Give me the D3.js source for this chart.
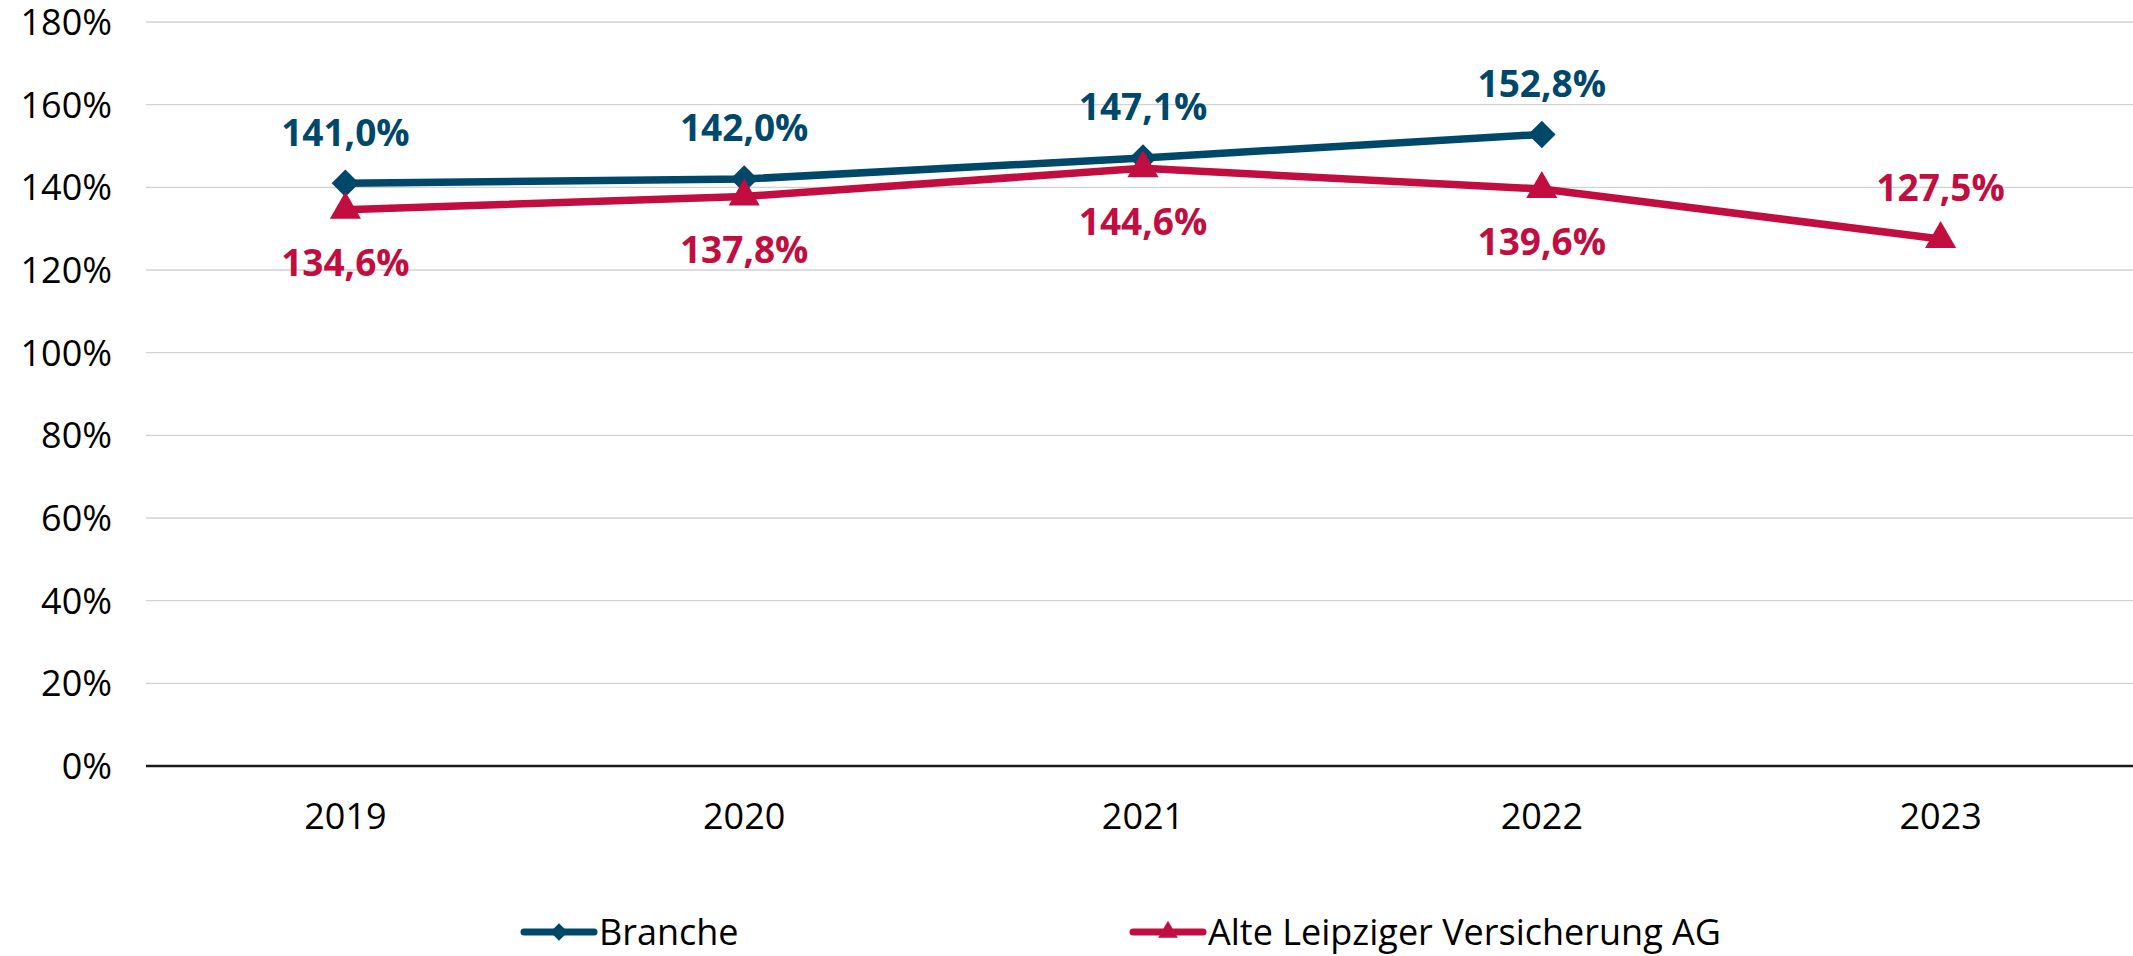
<!DOCTYPE html>
<html>
<head>
<meta charset="utf-8">
<script src="https://cdn.jsdelivr.net/npm/d3@7.9.0/dist/d3.min.js"></script>
<style>
  html, body { margin: 0; padding: 0; background: #fff; }
  svg { display: block; font-family: "Open Sans", sans-serif; }
</style>
</head>
<body>
<svg id="chart" width="2133" height="956"></svg>
<script>
// data
const years = ["2019", "2020", "2021", "2022", "2023"];
const branche = [1.41, 1.42, 1.471, 1.528, null];
const alteLeipziger = [1.346, 1.378, 1.446, 1.396, 1.275];
const yTicks = [0, 0.2, 0.4, 0.6, 0.8, 1.0, 1.2, 1.4, 1.6, 1.8];

// diamond = square turned 45deg (d3's symbolDiamond is too narrow)
const series = [
  { name: "Branche", values: branche, color: "#00486a", symbol: d3.symbolSquare, rotate: 45, size: 380 },
  { name: "Alte Leipziger Versicherung AG", values: alteLeipziger, color: "#c20d40", symbol: d3.symbolTriangle, rotate: 0, size: 420 }
];

const svg = d3.select("#chart");
const W = 2133, H = 956;
const plotLeft = 146, plotTop = 22, plotBottom = 766;

const x = d3.scaleBand().domain(years).range([plotLeft, 2140]);
const y = d3.scaleLinear().domain([0, 1.8]).range([plotBottom, plotTop]);
const cx = d => x(d) + x.bandwidth() / 2;

const pct = d3.format(".0%");
const pctLabel = v => d3.format(".1f")(v * 100).replace(".", ",") + "%";

// gridlines
svg.append("g")
  .selectAll("line")
  .data(yTicks.filter(t => t > 0))
  .join("line")
  .attr("x1", plotLeft).attr("x2", W)
  .attr("y1", d => y(d)).attr("y2", d => y(d))
  .attr("stroke", "#d2d2d2").attr("stroke-width", 1.4);

// y axis labels
svg.append("g")
  .selectAll("text")
  .data(yTicks)
  .join("text")
  .attr("x", 112)
  .attr("y", d => y(d))
  .attr("dy", "0.36em")
  .attr("text-anchor", "end")
  .attr("font-size", 36)
  .attr("fill", "#000")
  .text(d => pct(d));

// baseline
svg.append("line")
  .attr("x1", plotLeft).attr("x2", W)
  .attr("y1", y(0)).attr("y2", y(0))
  .attr("stroke", "#1a1a1a").attr("stroke-width", 2.4);

// x labels
svg.append("g")
  .selectAll("text")
  .data(years)
  .join("text")
  .attr("x", d => cx(d))
  .attr("y", y(0) + 50)
  .attr("dy", "0.36em")
  .attr("text-anchor", "middle")
  .attr("font-size", 36)
  .text(d => d);

// lines + markers
const line = d3.line()
  .defined(d => d.v != null)
  .x(d => cx(d.year))
  .y(d => y(d.v));

series.forEach(s => {
  const pts = years.map((year, i) => ({ year, v: s.values[i] }));
  svg.append("path")
    .datum(pts)
    .attr("d", line)
    .attr("fill", "none")
    .attr("stroke", s.color)
    .attr("stroke-width", 7.5)
    .attr("stroke-linejoin", "round");

  svg.append("g")
    .selectAll("path")
    .data(pts.filter(d => d.v != null))
    .join("path")
    .attr("transform", d => `translate(${cx(d.year)},${y(d.v)}) rotate(${s.rotate})`)
    .attr("d", d3.symbol().type(s.symbol).size(s.size))
    .attr("fill", s.color);
});

// data labels: Branche above; Alte Leipziger below, or above when no Branche value
series.forEach((s, si) => {
  const pts = years.map((year, i) => ({ year, v: s.values[i], i }));
  svg.append("g")
    .selectAll("text")
    .data(pts.filter(d => d.v != null))
    .join("text")
    .attr("x", d => cx(d.year))
    .attr("y", d => {
      const above = si === 0 || branche[d.i] == null;
      return y(d.v) + (above ? -51 : 53);
    })
    .attr("dy", "0.36em")
    .attr("text-anchor", "middle")
    .attr("font-size", 37)
    .attr("font-weight", 700)
    .attr("fill", s.color)
    .text(d => pctLabel(d.v));
});

// legend
const legendY = 932;
const legendX = [524, 1133];
series.forEach((s, i) => {
  const g = svg.append("g").attr("transform", `translate(${legendX[i]},${legendY})`);
  g.append("line")
    .attr("x1", 0).attr("x2", 70)
    .attr("stroke", s.color).attr("stroke-width", 7)
    .attr("stroke-linecap", "round");
  g.append("path")
    .attr("transform", `translate(35,0) rotate(${s.rotate})`)
    .attr("d", d3.symbol().type(s.symbol).size(s.size * 0.4))
    .attr("fill", s.color);
  g.append("text")
    .attr("x", 75)
    .attr("dy", "0.36em")
    .attr("font-size", 36)
    .text(s.name);
});
</script>
</body>
</html>
